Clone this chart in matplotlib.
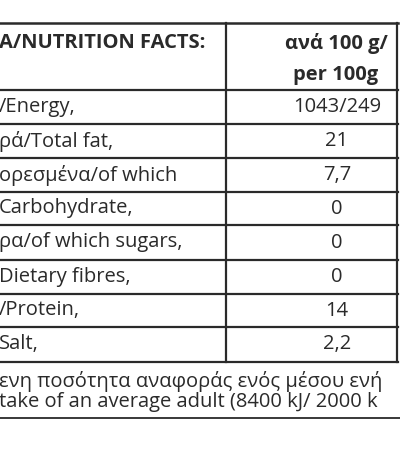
import matplotlib.pyplot as plt

# visible (cropped) row labels and values
labels = ['/Energy,', 'ρά/Total fat,', 'ορεσμένα/of which', 'Carbohydrate,',
          'ρα/of which sugars,', 'Dietary fibres,', '/Protein,', 'Salt,']
values = ['1043/249', '21', '7,7', '0', '0', '0', '14', '2,2']
header_left = 'A/NUTRITION FACTS:'
header_right = ['ανά 100 g/', 'per 100g']
footnote = ['ενη ποσότητα αναφοράς ενός μέσου ενή',
            'take of an average adult (8400 kJ/ 2000 k']

plt.rcParams['font.family'] = ['Open Sans', 'DejaVu Sans']

fig = plt.figure(figsize=(4.0, 4.57), dpi=100)
ax = fig.add_axes([0, 0, 1, 1])
ax.set_xlim(0, 400)
ax.set_ylim(457, 0)
ax.axis('off')

ink = '#2a2a2a'
fs = 14.5
row_lines = [90, 124, 158, 192, 225, 260, 294, 327, 362]

# table frame
ax.plot([0, 398], [23, 23], color=ink, lw=1.8)
for y in row_lines:
    ax.plot([0, 398], [y, y], color=ink, lw=1.6)
ax.plot([226, 226], [23, 362], color=ink, lw=1.6)
ax.plot([397, 397], [23, 362], color=ink, lw=1.6)
ax.plot([0, 400], [418, 418], color=ink, lw=1.3)

# header
ax.text(-1, 43, header_left, fontsize=fs, fontweight='bold', color=ink, va='center', ha='left')
ax.text(336, 43, header_right[0], fontsize=fs, fontweight='bold', color=ink, va='center', ha='center')
ax.text(336, 75, header_right[1], fontsize=fs, fontweight='bold', color=ink, va='center', ha='center')

# rows
for i, (lab, val) in enumerate(zip(labels, values)):
    yc = (row_lines[i] + row_lines[i + 1]) / 2
    ax.text(-1, yc, lab, fontsize=fs, color=ink, va='center', ha='left')
    ax.text(337, yc, val, fontsize=fs, color=ink, va='center', ha='center')

# footnote
ax.text(-1, 381, footnote[0], fontsize=fs, color=ink, va='center', ha='left')
ax.text(-1, 402, footnote[1], fontsize=fs, color=ink, va='center', ha='left')

fig.savefig('out.png', dpi=100, facecolor='white')
